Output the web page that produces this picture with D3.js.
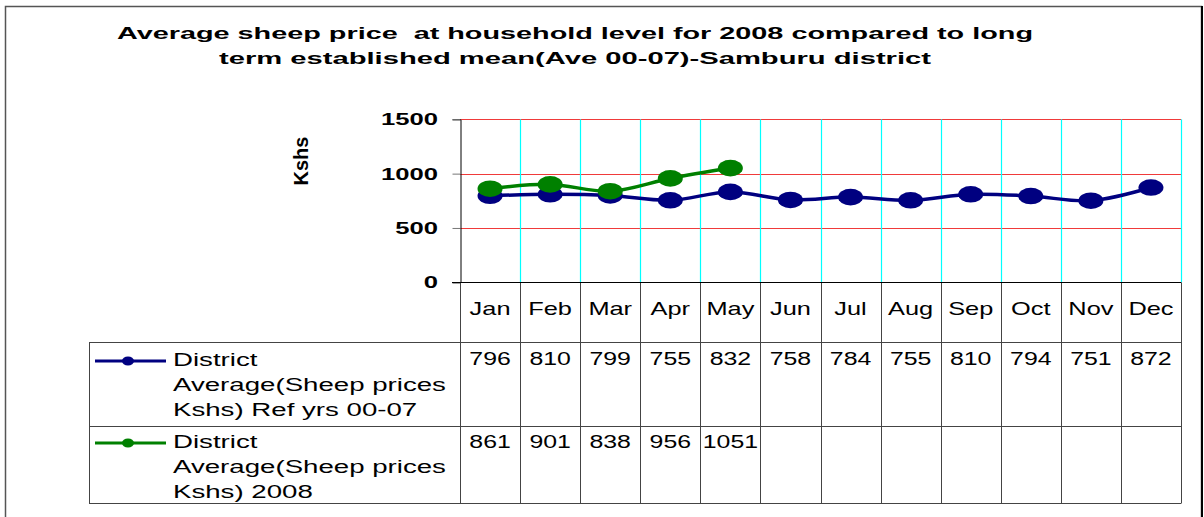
<!DOCTYPE html>
<html>
<head>
<meta charset="utf-8">
<script src="https://cdn.jsdelivr.net/npm/d3@7"></script>
<style>
body { margin: 0; background: #fff; }
svg { display: block; font-family: Arial, "Liberation Sans", sans-serif; }
.title { white-space: pre; }
</style>
</head>
<body>
<svg id="chart" width="1204" height="517"></svg>
<script>
var months = ["Jan","Feb","Mar","Apr","May","Jun","Jul","Aug","Sep","Oct","Nov","Dec"];
var refValues = [796, 810, 799, 755, 832, 758, 784, 755, 810, 794, 751, 872];
var values2008 = [861, 901, 838, 956, 1051];
var yTicks = [0, 500, 1000, 1500];
var seriesNames = [
	["District", "Average(Sheep prices", "Kshs) Ref yrs 00-07"],
	["District", "Average(Sheep prices", "Kshs) 2008"]
];
var titleLines = ["Average sheep price  at household level for 2008 compared to long",
	"term established mean(Ave 00-07)-Samburu district"];
var colors = ["#000080", "#008000"];

var svg = d3.select("#chart");

// outer frame
svg.append("rect").attr("x", 5.5).attr("y", 6.5).attr("width", 1196).attr("height", 600)
	.attr("fill", "none").attr("stroke", "#555").attr("stroke-width", 1.5);
svg.append("line").attr("x1", 1202).attr("x2", 1202).attr("y1", 6).attr("y2", 517)
	.attr("stroke", "#000").attr("stroke-width", 2);

// title
svg.selectAll(".title").data(titleLines).enter().append("text")
	.attr("class", "title")
	.attr("x", 575).attr("y", (d, i) => 39 + i * 25)
	.attr("text-anchor", "middle")
	.attr("font-size", 17).attr("font-weight", "bold")
	.attr("textLength", (d, i) => i == 0 ? 916 : 712)
	.attr("lengthAdjust", "spacingAndGlyphs")
	.text(d => d);

var x = d3.scaleBand().domain(months).range([460, 1181]).padding(0);
var y = d3.scaleLinear().domain([0, 1500]).range([282.3, 119.3]);
var bw = x.bandwidth();
var edges = months.map(m => x(m)).concat([x.range()[1]]);

// gridlines
svg.selectAll(".hgrid").data(yTicks.filter(d => d > 0)).enter().append("line")
	.attr("x1", 460).attr("x2", 1181)
	.attr("y1", d => Math.round(y(d)) + 0.5).attr("y2", d => Math.round(y(d)) + 0.5)
	.attr("stroke", "#f03a3a").attr("stroke-width", 1);
svg.selectAll(".vgrid").data(edges.slice(1)).enter().append("line")
	.attr("x1", d => Math.round(d) + 0.5).attr("x2", d => Math.round(d) + 0.5)
	.attr("y1", y(1500)).attr("y2", y(0))
	.attr("stroke", "#00ffff").attr("stroke-width", 1.2);

// y axis
var yAxis = svg.append("g").attr("transform", "translate(460.5,0)")
	.call(d3.axisLeft(y).tickValues(yTicks).tickSize(8).tickFormat(d3.format("d")));
yAxis.select(".domain").attr("stroke", "#000");
yAxis.selectAll(".tick line").attr("stroke", "#777");
yAxis.selectAll(".tick text").remove();
svg.selectAll(".ylab").data(yTicks).enter().append("text")
	.attr("transform", d => "translate(438," + (y(d) + 6) + ") scale(1.6,1)")
	.attr("text-anchor", "end").attr("font-size", 16).attr("font-weight", "bold")
	.text(d => d);

svg.append("text")
	.attr("transform", "translate(308,161) rotate(-90)")
	.attr("text-anchor", "middle").attr("font-size", 20).attr("font-weight", "bold")
	.text("Kshs");

// table grid
var tableTop = 342, row1 = 426, row2 = 503, legendLeft = 89;
var tbl = svg.append("g").attr("stroke", "#444").attr("stroke-width", 1);
edges.forEach(function(e) {
	tbl.append("line").attr("x1", Math.round(e) + 0.5).attr("x2", Math.round(e) + 0.5)
		.attr("y1", y(0)).attr("y2", row2);
});
[tableTop, row1, row2].forEach(function(r) {
	tbl.append("line").attr("x1", legendLeft).attr("x2", 1181.5)
		.attr("y1", r + 0.5).attr("y2", r + 0.5);
});
tbl.append("line").attr("x1", legendLeft + 0.5).attr("x2", legendLeft + 0.5)
	.attr("y1", tableTop).attr("y2", row2);
svg.append("line").attr("x1", 452).attr("x2", 1181).attr("y1", Math.round(y(0)) + 0.5).attr("y2", Math.round(y(0)) + 0.5)
	.attr("stroke", "#000");

// month header
svg.selectAll(".mlab").data(months).enter().append("text")
	.attr("transform", d => "translate(" + (x(d) + bw / 2) + ",315) scale(1.45,1)")
	.attr("text-anchor", "middle").attr("font-size", 17.5)
	.text(d => d);

// data cells
[refValues, values2008].forEach(function(vals, si) {
	svg.selectAll(".cell" + si).data(vals).enter().append("text")
		.attr("transform", (d, i) => "translate(" + (x(months[i]) + bw / 2) + "," + (si == 0 ? 365 : 448) + ") scale(1.42,1)")
		.attr("text-anchor", "middle").attr("font-size", 17.5)
		.text(d => d);
});

// legend keys in table
seriesNames.forEach(function(lines, si) {
	var ly = si == 0 ? 361 : 443;
	svg.append("line").attr("x1", 95).attr("x2", 166).attr("y1", ly).attr("y2", ly)
		.attr("stroke", colors[si]).attr("stroke-width", 3);
	svg.append("ellipse").attr("cx", 128).attr("cy", ly).attr("rx", 6).attr("ry", 4.5)
		.attr("fill", colors[si]);
	lines.forEach(function(t, li) {
		svg.append("text")
			.attr("transform", "translate(173," + (ly + 5 + li * 25) + ") scale(1.58,1)")
			.attr("font-size", 17.5)
			.text(t);
	});
});

// series lines
var line = d3.line()
	.x((d, i) => x(months[i]) + bw / 2)
	.y(d => y(d))
	.curve(d3.curveCatmullRom.alpha(0));

[refValues, values2008].forEach(function(vals, si) {
	svg.append("path").datum(vals)
		.attr("fill", "none").attr("stroke", colors[si]).attr("stroke-width", 3.5)
		.attr("d", line);
	svg.selectAll(".pt" + si).data(vals).enter().append("ellipse")
		.attr("cx", (d, i) => x(months[i]) + bw / 2)
		.attr("cy", d => y(d))
		.attr("rx", 12.5).attr("ry", 8.3)
		.attr("fill", colors[si]);
});
</script>
</body>
</html>
